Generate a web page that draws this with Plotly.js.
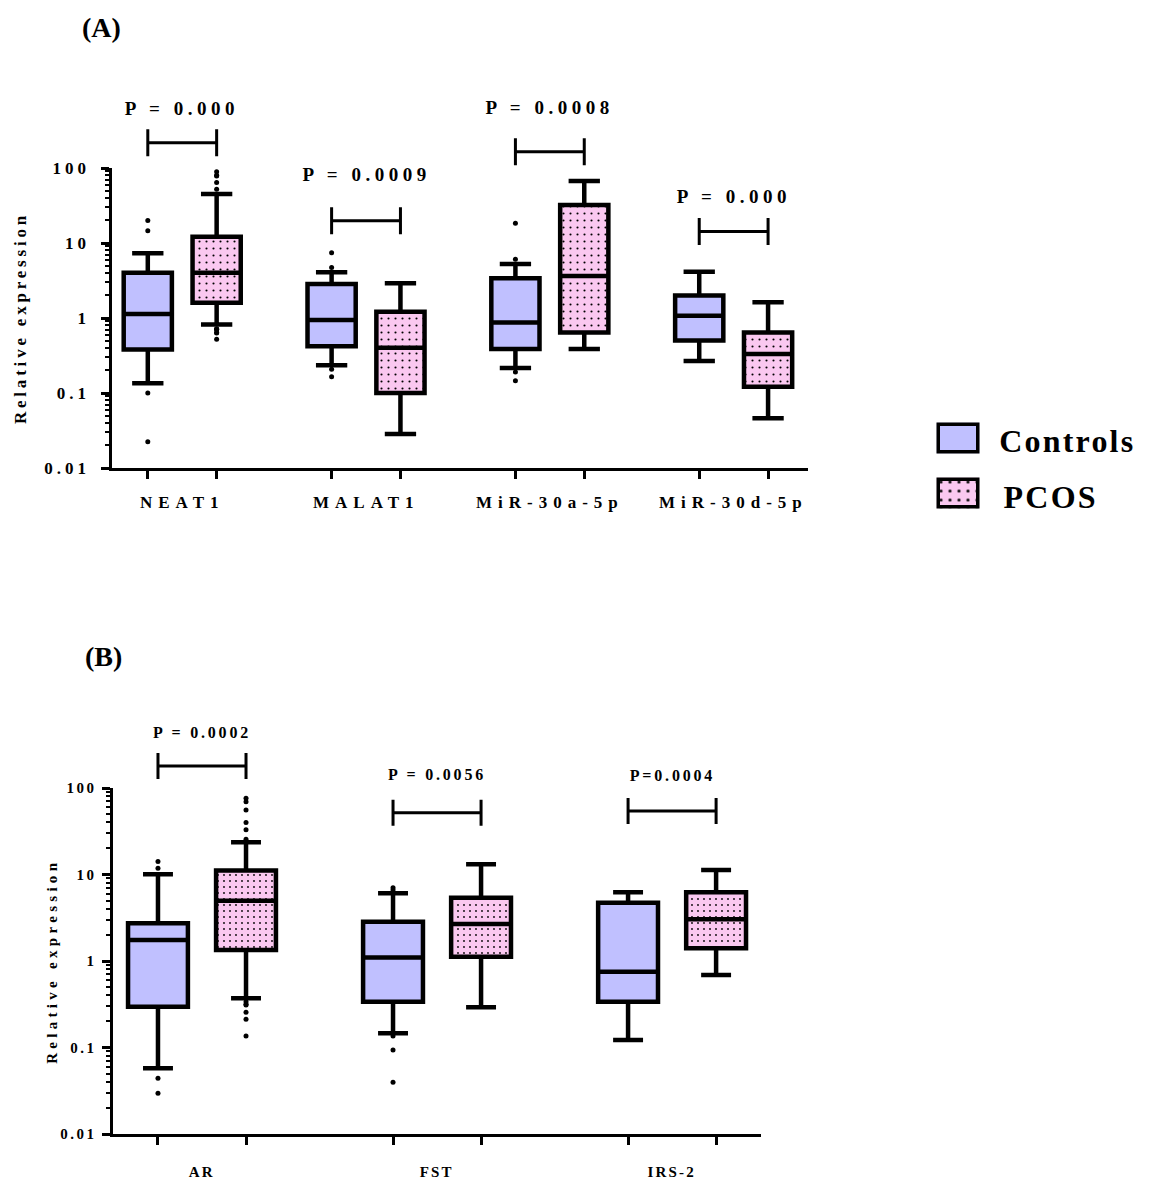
<!DOCTYPE html>
<html><head><meta charset="utf-8">
<script src="https://cdn.plot.ly/plotly-3.0.1.min.js"></script>
<style>
html,body{margin:0;padding:0;background:#fff;}
#chart{width:1151px;height:1180px;}
.ytick text{letter-spacing:4px;}
.y2tick text{letter-spacing:2.5px;}
</style></head><body><div id="chart"></div>
<script>
// ---------------- Panel A data ----------------
const groupsA = ['NEAT1', 'MALAT1', 'MiR-30a-5p', 'MiR-30d-5p'];
const pA = ['P = 0.000', 'P = 0.0009', 'P = 0.0008', 'P = 0.000'];
const aCtrlQ1  = [0.38, 0.42, 0.386, 0.50];
const aCtrlMed = [1.13, 0.94, 0.87, 1.07];
const aCtrlQ3  = [4.0, 2.84, 3.38, 1.99];
const aCtrlLo  = [0.135, 0.234, 0.216, 0.267];
const aCtrlHi  = [7.3, 4.06, 5.25, 4.15];
const aCtrlOut = [[20, 14.6, 0.10, 0.0224], [7.4, 4.7, 0.207, 0.165], [18.3, 6.06, 0.19, 0.146], []];
const aPcosQ1  = [1.6, 0.10, 0.64, 0.121];
const aPcosMed = [4.0, 0.40, 3.63, 0.33];
const aPcosQ3  = [12.1, 1.21, 32, 0.64];
const aPcosLo  = [0.82, 0.0284, 0.386, 0.046];
const aPcosHi  = [45, 2.9, 67, 1.62];
const aPcosOut = [[89, 80, 78, 64, 52, 0.72, 0.71, 0.70, 0.64, 0.63, 0.52], [], [], []];
const aBracket = [217, 19.8, 165, 14.2];

// ---------------- Panel B data ----------------
const groupsB = ['AR', 'FST', 'IRS-2'];
const pB = ['P = 0.0002', 'P = 0.0056', 'P=0.0004'];
const bCtrlQ1  = [0.296, 0.339, 0.339];
const bCtrlMed = [1.75, 1.10, 0.753];
const bCtrlQ3  = [2.73, 2.85, 4.72];
const bCtrlLo  = [0.0574, 0.146, 0.122];
const bCtrlHi  = [10.05, 6.06, 6.22];
const bCtrlOut = [[14.1, 11.8, 0.044, 0.0295], [7.04, 6.62, 0.136, 0.0935, 0.0396], []];
const bPcosQ1  = [1.34, 1.12, 1.40];
const bPcosMed = [4.98, 2.68, 3.03];
const bPcosQ3  = [11.1, 5.39, 6.22];
const bPcosLo  = [0.37, 0.291, 0.69];
const bPcosHi  = [23.6, 13.1, 11.3];
const bPcosOut = [[76, 69.5, 55.7, 40, 33, 25.5, 0.339, 0.316, 0.31, 0.255, 0.212, 0.136], [], []];
const bBracket = [180, 51.8, 54.2];

const seriesNames = ['Controls', 'PCOS'];

// ---------------- layout / style ----------------
const W = 1151, H = 1180;
const GAP = 2.67;
const FONT = '"Liberation Serif", "Times New Roman", serif';
const CTRL_FILL = 'rgb(192,192,255)';
const PCOS_FILL = 'rgb(250,200,240)';
const fx = p => p / W;
const fy = p => 1 - p / H;

const PANELS = [
  {xa: 'x', ya: 'y', px: [112, 808], py: [168, 468], xr: [-0.52, 9.59], boxW: 0.7, whisk: 0.65, dot: 7,
   tickFont: 17, tickStandoff: 7, labelY: 502, labelFont: 17, labelSp: 6,
   pFont: 19, pSp: 4.5, pOff: [34, 46, 44, 35], brH: 13.5,
   titleX: 20, titleFont: 17, titleSp: 3.8,
   groups: groupsA, pvals: pA, bracket: aBracket,
   c: [aCtrlQ1, aCtrlMed, aCtrlQ3, aCtrlLo, aCtrlHi, aCtrlOut],
   s: [aPcosQ1, aPcosMed, aPcosQ3, aPcosLo, aPcosHi, aPcosOut]},
  {xa: 'x2', ya: 'y2', px: [113, 761], py: [788, 1134], xr: [-0.511, 6.85], boxW: 0.68, whisk: 0.5, dot: 6,
   tickFont: 15, tickStandoff: 2, labelY: 1172, labelFont: 15, labelSp: 2.2,
   pFont: 16, pSp: 2.8, pOff: [33, 38, 36], brH: 13,
   titleX: 52, titleFont: 15, titleSp: 4.3,
   groups: groupsB, pvals: pB, bracket: bBracket,
   c: [bCtrlQ1, bCtrlMed, bCtrlQ3, bCtrlLo, bCtrlHi, bCtrlOut],
   s: [bPcosQ1, bPcosMed, bPcosQ3, bPcosLo, bPcosHi, bPcosOut]}
];

const traces = [], annotations = [], spacing = [], shapes = [];
const layout = {
  width: W, height: H, margin: {l: 0, r: 0, t: 0, b: 0},
  paper_bgcolor: 'white', plot_bgcolor: 'white', showlegend: false,
  font: {family: FONT, color: 'black'}
};

function addAnn(a, sp) { annotations.push(a); spacing.push(sp || 0); }

PANELS.forEach((P, pi) => {
  const xc = P.groups.map((_, g) => g * GAP);
  const xs = P.groups.map((_, g) => g * GAP + 1);
  const xmid = P.groups.map((_, g) => g * GAP + 0.5);
  const toPX = x => P.px[0] + (x - P.xr[0]) / (P.xr[1] - P.xr[0]) * (P.px[1] - P.px[0]);
  const toPY = v => P.py[1] - (Math.log10(v) + 2) / 4 * (P.py[1] - P.py[0]);

  // dotted fill for PCOS boxes
  traces.push({
    type: 'bar', xaxis: P.xa, yaxis: P.ya, x: xs,
    base: P.s[0], y: P.s[2].map((q3, i) => q3 - P.s[0][i]),
    width: P.boxW, hoverinfo: 'skip',
    marker: {color: PCOS_FILL, line: {width: 0},
      pattern: {shape: '.', fgcolor: 'black', bgcolor: PCOS_FILL, size: P.dot, solidity: 0.07, fillmode: 'replace'}}
  });
  // boxes + outliers
  [[xc, P.c, CTRL_FILL], [xs, P.s, 'rgba(0,0,0,0)']].forEach(([xx, d, fill], k) => {
    traces.push({
      type: 'box', name: seriesNames[k], xaxis: P.xa, yaxis: P.ya, x: xx,
      q1: d[0], median: d[1], q3: d[2], lowerfence: d[3], upperfence: d[4],
      width: P.boxW, whiskerwidth: P.whisk, fillcolor: fill,
      line: {color: 'black', width: 4.5}, boxpoints: false
    });
    const ox = [], oy = [];
    d[5].forEach((arr, g) => arr.forEach(v => { ox.push(xx[g]); oy.push(v); }));
    traces.push({
      type: 'scatter', mode: 'markers', xaxis: P.xa, yaxis: P.ya, x: ox, y: oy,
      marker: {color: 'black', size: 5}, hoverinfo: 'y'
    });
  });

  const axX = pi === 0 ? 'xaxis' : 'xaxis2';
  const axY = pi === 0 ? 'yaxis' : 'yaxis2';
  layout[axX] = {
    domain: [fx(P.px[0]), fx(P.px[1])], range: P.xr, anchor: P.ya,
    tickmode: 'array', tickvals: xc.concat(xs), ticktext: xc.concat(xs).map(() => ''),
    ticks: 'outside', ticklen: 8, tickwidth: 3, tickcolor: 'black',
    showline: true, linewidth: 3, linecolor: 'black', showgrid: false, zeroline: false, fixedrange: true
  };
  layout[axY] = {
    type: 'log', domain: [fy(P.py[1]), fy(P.py[0])], range: [-2, 2], anchor: P.xa,
    tickmode: 'linear', tick0: 0, dtick: 1, ticks: 'outside', ticklen: 8, tickwidth: 3, tickcolor: 'black',
    ticklabelstandoff: P.tickStandoff,
    tickfont: {family: FONT, size: P.tickFont, weight: 'bold', color: 'black'},
    minor: {dtick: 'D1', ticks: 'outside', ticklen: 4, tickwidth: 2, tickcolor: 'black', showgrid: false},
    showline: true, linewidth: 3.5, linecolor: 'black', showgrid: false, zeroline: false, fixedrange: true
  };

  // group labels
  P.groups.forEach((g, i) => addAnn({
    xref: P.xa, x: xmid[i], yref: 'paper', y: fy(P.labelY), text: g, showarrow: false,
    xanchor: 'center', yanchor: 'middle', font: {family: FONT, size: P.labelFont, weight: 'bold', color: 'black'}
  }, P.labelSp));

  // brackets + p-values
  P.bracket.forEach((lvl, i) => {
    const yb = toPY(lvl);
    const x1 = toPX(xc[i]), x2 = toPX(xs[i]);
    shapes.push({
      type: 'path', xref: 'paper', yref: 'paper', layer: 'above',
      path: `M${fx(x1)},${fy(yb - P.brH)} L${fx(x1)},${fy(yb + P.brH)} M${fx(x1)},${fy(yb)} L${fx(x2)},${fy(yb)} M${fx(x2)},${fy(yb - P.brH)} L${fx(x2)},${fy(yb + P.brH)}`,
      line: {color: 'black', width: 3}
    });
    addAnn({
      xref: P.xa, x: xmid[i], yref: 'paper', y: fy(yb - P.pOff[i]), text: P.pvals[i], showarrow: false,
      xanchor: 'center', yanchor: 'middle', font: {family: FONT, size: P.pFont, weight: 'bold', color: 'black'}
    }, P.pSp);
  });

  // y title
  addAnn({
    xref: 'paper', x: fx(P.titleX), yref: 'paper', y: fy((P.py[0] + P.py[1]) / 2), text: 'Relative expression',
    textangle: -90, showarrow: false, xanchor: 'center', yanchor: 'middle',
    font: {family: FONT, size: P.titleFont, weight: 'bold', color: 'black'}
  }, P.titleSp);
});

// panel labels
addAnn({xref: 'paper', yref: 'paper', x: fx(101), y: fy(28), text: '(A)', showarrow: false,
  xanchor: 'center', yanchor: 'middle', font: {family: FONT, size: 28, weight: 'bold', color: 'black'}}, 0);
addAnn({xref: 'paper', yref: 'paper', x: fx(103), y: fy(656), text: '(B)', showarrow: false,
  xanchor: 'center', yanchor: 'middle', font: {family: FONT, size: 28, weight: 'bold', color: 'black'}}, 0);

// legend: swatches in their own tiny subplots, labels as annotations
const LEG = [
  {xa: 'x3', ya: 'y3', box: [936.5, 979.5, 422.5, 453.5], fill: CTRL_FILL, pattern: '', ty: 441},
  {xa: 'x4', ya: 'y4', box: [936.5, 979.5, 477.5, 508.5], fill: PCOS_FILL, pattern: '.', ty: 497}
];
LEG.forEach((L, k) => {
  traces.push({
    type: 'bar', xaxis: L.xa, yaxis: L.ya, x: [0], y: [1], width: 1, cliponaxis: false, hoverinfo: 'skip',
    marker: {color: L.fill, line: {color: 'black', width: 7},
      pattern: {shape: L.pattern, fgcolor: 'black', bgcolor: L.fill, size: 9, solidity: 0.09, fillmode: 'replace'}}
  });
  const n = k + 3;
  layout['xaxis' + n] = {domain: [fx(L.box[0]), fx(L.box[1])], range: [-0.5, 0.5], visible: false, anchor: L.ya, fixedrange: true};
  layout['yaxis' + n] = {domain: [fy(L.box[3]), fy(L.box[2])], range: [0, 1], visible: false, anchor: L.xa, fixedrange: true};
  addAnn({xref: 'paper', yref: 'paper', x: fx(1006), y: fy(L.ty), text: seriesNames[k], showarrow: false,
    xanchor: 'left', yanchor: 'middle', font: {family: FONT, size: 32, weight: 'bold', color: 'black'}}, 2.2);
});

layout.annotations = annotations;
layout.shapes = shapes;
layout.bargap = 0;

Plotly.newPlot('chart', traces, layout, {displayModeBar: false, staticPlot: true}).then(gd => {
  gd.querySelectorAll('g.annotation').forEach(g => {
    const i = +g.getAttribute('data-index');
    const t = g.querySelector('text');
    if (t && spacing[i]) t.style.letterSpacing = spacing[i] + 'px';
  });
});
</script></body></html>
